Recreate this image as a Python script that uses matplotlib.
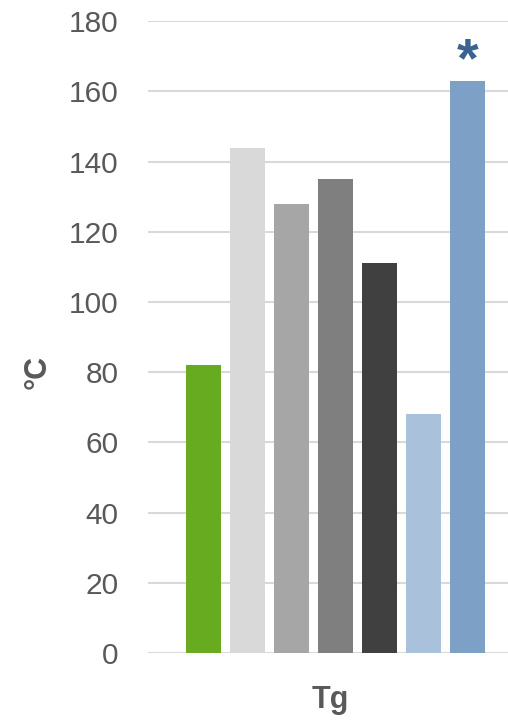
import matplotlib
matplotlib.use("Agg")
import matplotlib.pyplot as plt

plt.rcParams['font.family'] = ['Liberation Sans', 'DejaVu Sans']

# Glass transition temperatures, one bar per material
series = ["S1", "S2", "S3", "S4", "S5", "S6", "S7"]
tg_values = [82, 144, 128, 135, 111, 68, 163]
bar_colors = ["#66AB20", "#D9D9D9", "#A6A6A6", "#7F7F7F", "#404040", "#A9C1DA", "#7DA0C7"]
marked = [False, False, False, False, False, False, True]
yticks = [0, 20, 40, 60, 80, 100, 120, 140, 160, 180]
category = "Tg"
unit = "°C"

W, H = 508, 720
fig = plt.figure(figsize=(W / 100, H / 100), dpi=100)
ax = fig.add_axes([148 / W, (H - 653) / H, (508 - 148) / W, (653 - 21.3) / H])

x = list(range(len(series)))
ax.bar(x, tg_values, width=35 / 44, color=bar_colors, zorder=3)

for xi, v, m in zip(x, tg_values, marked):
    if m:
        ax.text(xi, v - 2.2, "*", ha="center", va="bottom", fontsize=40,
                fontweight="bold", color="#3B6390", zorder=4)

ax.set_xlim(-55.5 / 44, 6 + 40.5 / 44)
ax.set_ylim(0, 180)
ax.set_yticks(yticks)
ax.set_xticks([])
ax.yaxis.grid(True, color="#D9D9D9", linewidth=1.5, zorder=0)
ax.set_axisbelow(True)
for s in ax.spines.values():
    s.set_visible(False)
ax.tick_params(axis="y", length=0, pad=21, labelsize=21.5, labelcolor="#595959")
for lbl in ax.get_yticklabels():
    lbl.set_clip_on(False)

fig.text(330 / W, 1 - 700 / H, category, ha="center", va="center",
         fontsize=22, fontweight="bold", color="#595959")
fig.text(38 / W, 1 - 372 / H, unit, ha="center", va="center", rotation=90,
         fontsize=22, fontweight="bold", color="#595959")

fig.savefig("out.png", dpi=100)
